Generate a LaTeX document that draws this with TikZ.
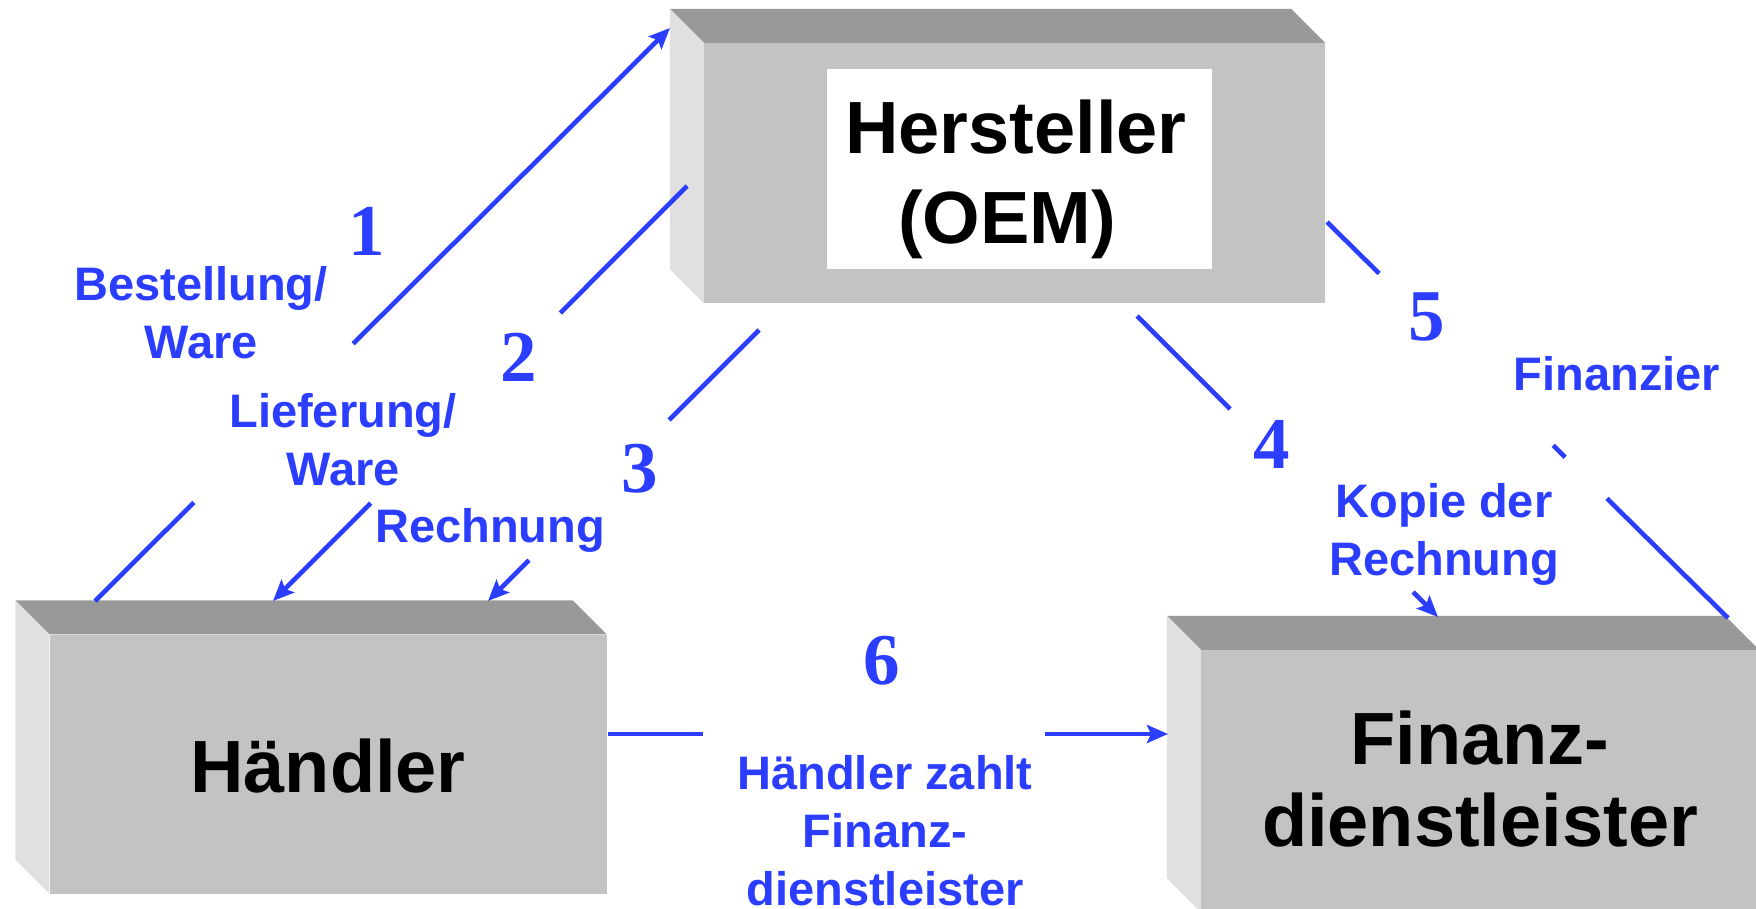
\documentclass[tikz,border=0pt]{standalone}
\usepackage{fontspec}
\setmainfont{Liberation Sans}
\newfontfamily\numfont{Liberation Serif}
\usetikzlibrary{calc,arrows.meta}
\definecolor{flowblue}{HTML}{2B3DFF}
\definecolor{facefront}{HTML}{C3C3C3}
\definecolor{facetop}{HTML}{999999}
\definecolor{faceside}{HTML}{E0E0E0}
% top and left faces of a slab whose front face is the node #1
\newcommand\boxfaces[1]{%
  \fill[facetop] (#1.north west) -- ++(-34,-34) -- ($(#1.north east)+(-34,-34)$) -- (#1.north east) -- cycle;
  \fill[faceside] (#1.north west) -- ++(-34,-34) -- ($(#1.south west)+(-34,-34)$) -- (#1.south west) -- cycle;}
\begin{document}
\begin{tikzpicture}[x=1pt,y=-1pt,
  front/.style={fill=facefront, draw=none, inner sep=0},
  flow/.style={draw=flowblue, line width=4.6pt},
  tip/.style={-{Stealth[length=21pt,width=18pt,inset=4pt]}},
  lbl/.style={text=flowblue, font=\fontsize{47}{58}\selectfont\bfseries, align=center, inner sep=0, anchor=north},
  num/.style={text=flowblue, font=\fontsize{73}{73}\selectfont\numfont\bfseries, inner sep=0},
  boxtext/.style={font=\fontsize{74}{90}\selectfont\bfseries, align=center, inner sep=0, anchor=north}]
\useasboundingbox (0,0) rectangle (1756,909);
\clip (0,0) rectangle (1756,909);

% the three slabs
\node[front, minimum width=621pt, minimum height=260pt] (oem) at (1014.5,173) {};
\boxfaces{oem}
\node[fill=white, inner sep=0, minimum width=385pt, minimum height=200pt] (oemplate) at (1019,169) {};
\node[boxtext] (oemname) at (1016,100) {Hersteller\\(OEM)\hspace*{18pt}};

\node[front, minimum width=557pt, minimum height=259pt] (dealer) at (328,764) {};
\boxfaces{dealer}
\node[boxtext] (dealername) at (328,739) {Händler};

\node[front, minimum width=558pt, minimum height=262pt] (bank) at (1480,781) {};
\boxfaces{bank}
\node[boxtext, font=\fontsize{74}{82}\selectfont\bfseries] (bankname) at (1480,711) {Finanz-\\dienstleister};

% connector end points
\coordinate (c1s) at (95,601);   \coordinate (c1e) at (670,28);
\coordinate (c2s) at (687,186);  \coordinate (c2e) at (273,601);
\coordinate (c3s) at (759,330);  \coordinate (c3e) at (488,601);
\coordinate (c4s) at (1137,316); \coordinate (c4e) at (1438,617);
\coordinate (c5s) at (1327,222); \coordinate (c5e) at (1728,618);
\coordinate (c6s) at (608,734);  \coordinate (c6e) at (1168,734);

% 1: order
\draw[flow] (c1s) -- ($(c1s)!0.172!(c1e)$);
\draw[flow,tip] ($(c1s)!0.449!(c1e)$) -- (c1e);
% 2: delivery
\draw[flow] (c2s) -- ($(c2s)!0.306!(c2e)$);
\draw[flow,tip] ($(c2s)!0.764!(c2e)$) -- (c2e);
% 3: invoice
\draw[flow] (c3s) -- ($(c3s)!0.332!(c3e)$);
\draw[flow,tip] ($(c3s)!0.849!(c3e)$) -- (c3e);
% 4: copy of the invoice
\draw[flow] (c4s) -- ($(c4s)!0.309!(c4e)$);
\draw[flow,tip] ($(c4s)!0.917!(c4e)$) -- (c4e);
% 5: financing
\draw[flow] (c5s) -- ($(c5s)!0.13!(c5e)$);
\draw[flow] ($(c5s)!0.564!(c5e)$) -- ($(c5s)!0.594!(c5e)$);
\draw[flow] ($(c5s)!0.698!(c5e)$) -- (c5e);
% 6: payment
\draw[flow] (c6s) -- ($(c6s)!0.17!(c6e)$);
\draw[flow,tip] ($(c6s)!0.78!(c6e)$) -- (c6e);

% step numbers
\node[num] (n1) at (367,231) {1};
\node[num] (n2) at (519,357) {2};
\node[num] (n3) at (640,469) {3};
\node[num] (n4) at (1272,444) {4};
\node[num] (n5) at (1427,317) {5};
\node[num] (n6) at (882,661) {6};

% step labels
\node[lbl] (l1) at (201,266) {Bestellung/\\Ware};
\node[lbl] (l2) at (343,393) {Lieferung/\\Ware};
\node[lbl] (l3) at (490,508) {Rechnung};
\node[lbl] (l4) at (1444,483) {Kopie der\\Rechnung};
\node[lbl] (l5) at (1617,356) {Finanzier};
\node[lbl] (l6) at (885,755) {Händler zahlt\\Finanz-\\dienstleister};
\end{tikzpicture}
\end{document}
